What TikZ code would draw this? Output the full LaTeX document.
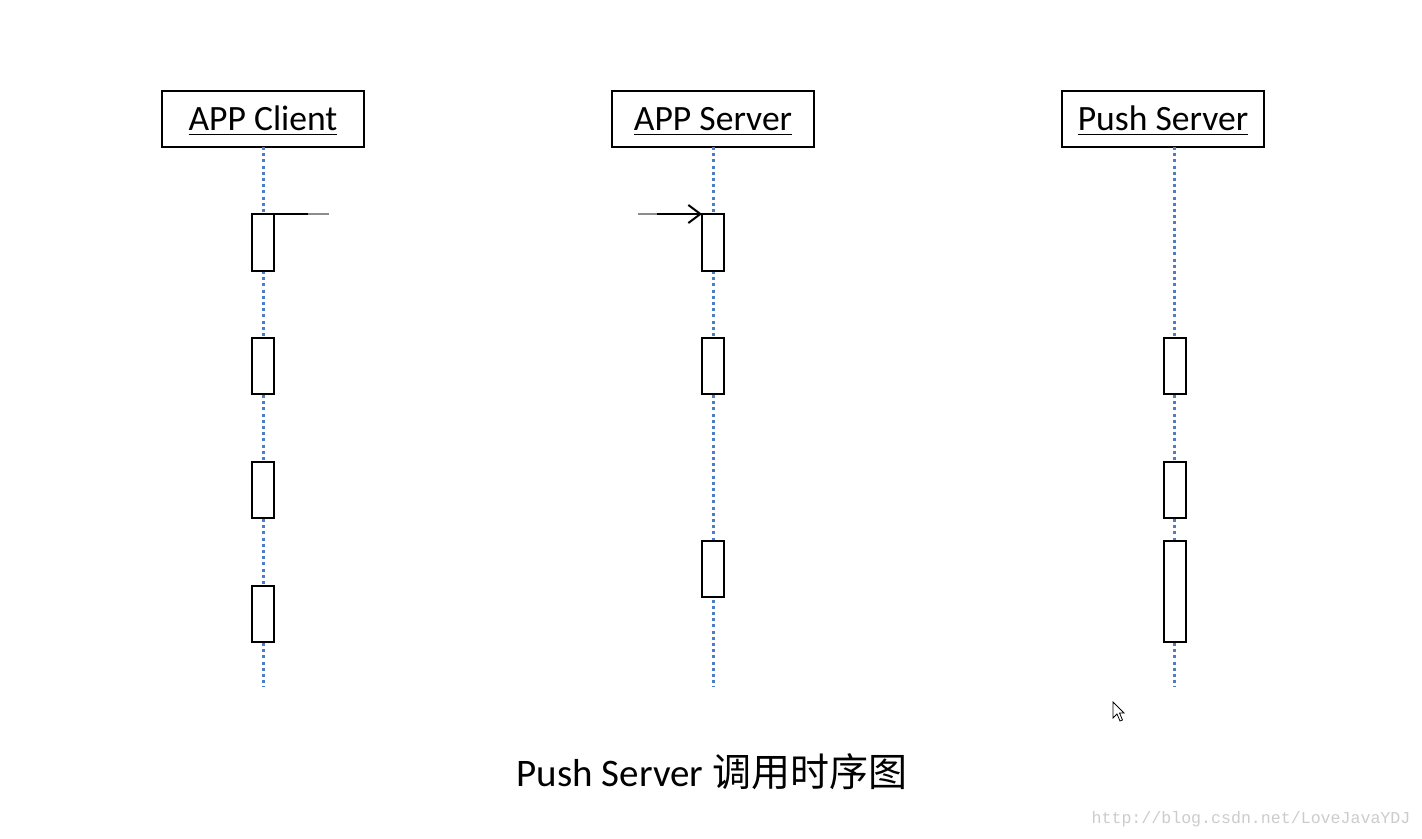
\documentclass[tikz,border=0pt]{standalone}
\usepackage{fontspec}
\setmainfont{Carlito}
\newfontfamily\cjk{Noto Sans CJK SC}
\newfontfamily\wmfont{Liberation Mono}
\usetikzlibrary{arrows.meta}
\definecolor{lifeblue}{RGB}{78,125,200}
\tikzset{
	head/.style={draw, line width=1pt, minimum width=101pt, minimum height=28pt, inner sep=0pt, text height=14pt, text depth=2pt, font=\fontsize{17.8}{20}\selectfont},
	act/.style={draw, fill=white, line width=1pt, minimum width=11pt, minimum height=28pt, inner sep=0pt},
	life/.style={draw=lifeblue, line width=1.5pt, dash pattern=on 1.5pt off 1.6pt},
	msg/.style={line width=1pt}
}
\begin{document}
\begin{tikzpicture}[x=0.5pt, y=-0.5pt]
			%%%%% START %%%%%
			\useasboundingbox[fill=white] (0, 0) rectangle (1422, 839);
			
			% heads
			\node[head] (client) at (263, 119) {\underline{APP Client}};
			\node[head] (server) at (713, 119) {\underline{APP Server}};
			\node[head] (push) at (1163, 119) {\underline{Push Server}};
			
			% life lines
			\coordinate (clientend) at (263, 687);
			\coordinate (serverend) at (713, 687);
			\coordinate (pushend) at (1174, 687);
			\draw[life] (263, 147) -- (clientend);
			\draw[life] (713, 147) -- (serverend);
			\draw[life] (1174, 147) -- (pushend);
			
			% client activations
			\node[act, minimum height=28.5pt] (c1) at (263, 242.5) {};
			\node[act] (c2) at (263, 366) {};
			\node[act] (c3) at (263, 490) {};
			\node[act] (c4) at (263, 614) {};
			
			% server activations
			\node[act, minimum height=28.5pt] (s1) at (713, 242.5) {};
			\node[act] (s2) at (713, 366) {};
			\node[act] (s3) at (713, 569) {};
			
			% push activations
			\node[act] (p1) at (1174.5, 366) {};
			\node[act] (p2) at (1174.5, 490) {};
			\node[act, minimum height=50.5pt] (p3) at (1174.5, 591.5) {};
			
			% messages
			\coordinate (cm0) at (274, 214);
			\coordinate (cm1) at (308, 214);
			\coordinate (cm2) at (329, 214);
			\draw[msg] (cm0) -- (cm1);
			\draw[black!45, line width=0.6pt] (cm1) -- (cm2);
			\coordinate (sm1) at (638, 214);
			\coordinate (sm2) at (657, 214);
			\coordinate (sm3) at (702, 214);
			\draw[black!45, line width=0.6pt] (sm1) -- (sm2);
			\draw[msg, -{Straight Barb[length=6pt, width=9pt]}] (sm2) -- (sm3);
			
			% cursor
			\draw[fill=white, line width=0.4pt] (1113, 702) -- (1113, 718) -- (1117, 714) -- (1120, 721) -- (1122.5, 720) -- (1119.5, 713) -- (1124, 713) -- cycle;
			
			% title
			\node[font=\fontsize{19.5}{22}\selectfont] (title) at (712, 772) {Push Server {\cjk 调用时序图}};
			\node[font=\wmfont\fontsize{8.3}{10}\selectfont, text=black!20] (mark) at (1251, 819) {http://blog.csdn.net/LoveJavaYDJ};
			%%%%% END %%%%%
\end{tikzpicture}
\end{document}
